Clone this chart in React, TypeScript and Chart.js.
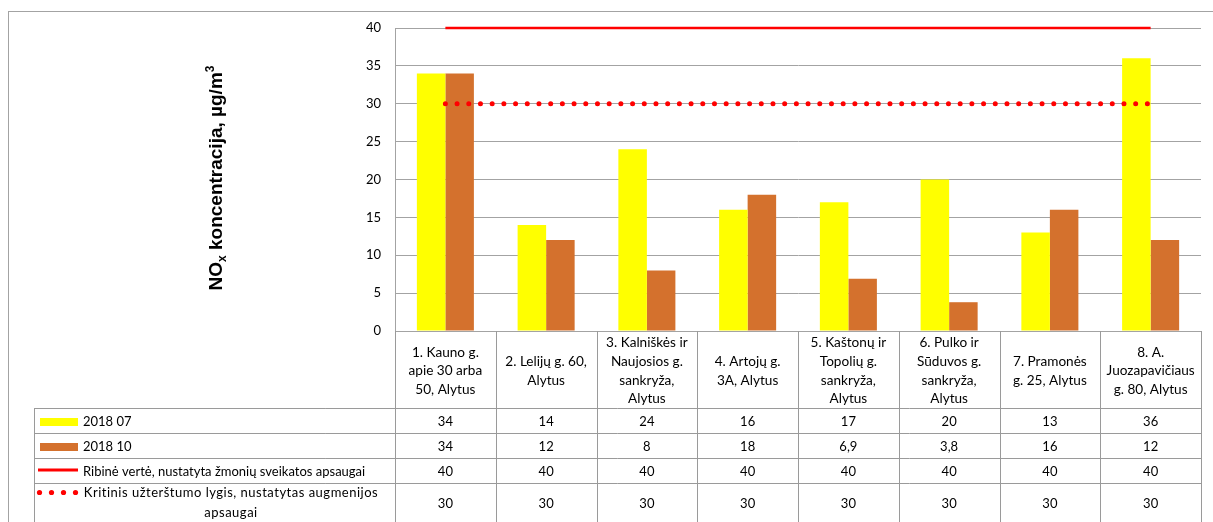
import React, { useEffect, useRef } from "react";
import { Chart, registerables } from "chart.js";

Chart.register(...registerables);

// ---------- data ----------
const categories: string[][] = [
  ["1. Kauno g.", "apie 30 arba", "50, Alytus"],
  ["2. Lelijų g. 60,", "Alytus"],
  ["3. Kalniškės ir", "Naujosios g.", "sankryža,", "Alytus"],
  ["4. Artojų g.", "3A, Alytus"],
  ["5. Kaštonų ir", "Topolių g.", "sankryža,", "Alytus"],
  ["6. Pulko ir", "Sūduvos g.", "sankryža,", "Alytus"],
  ["7. Pramonės", "g. 25, Alytus"],
  ["8. A.", "Juozapavičiaus", "g. 80, Alytus"],
];
const jul2018 = [34, 14, 24, 16, 17, 20, 13, 36];
const oct2018 = [34, 12, 8, 18, 6.9, 3.8, 16, 12];
const limitValue = [40, 40, 40, 40, 40, 40, 40, 40];
const criticalLevel = [30, 30, 30, 30, 30, 30, 30, 30];
const seriesNames = [
  "2018 07",
  "2018 10",
  "Ribinė vertė, nustatyta žmonių sveikatos apsaugai",
  "Kritinis užterštumo lygis, nustatytas augmenijos apsaugai",
];
const yMin = 0;
const yMax = 40;
const yStep = 5;
const titleParts = ["NO", "x", " koncentracija, µg/m", "3"];

// ---------- styles ----------
const FONT = 'Lato, "Open Sans", sans-serif';
const TITLE_FONT = '"Liberation Sans", Arial, sans-serif';
const GRID = "#A3A3A3";
const TABLE_LINE = "#9A9A9A";
const YELLOW = "#FFFF00";
const ORANGE = "#D4712D";
const RED = "#FF0000";

const fmt = (v: number) => String(v).replace(".", ",");

function wrap(ctx: CanvasRenderingContext2D, text: string, maxW: number) {
  const words = text.split(" ");
  const lines: string[] = [];
  let cur = "";
  for (const w of words) {
    const t = cur ? cur + " " + w : w;
    if (ctx.measureText(t).width > maxW && cur) {
      lines.push(cur);
      cur = w;
    } else cur = t;
  }
  if (cur) lines.push(cur);
  return lines;
}

const framePlugin = {
  id: "frameAndTitle",
  beforeDraw(chart: any) {
    const ctx: CanvasRenderingContext2D = chart.ctx;
    ctx.save();
    ctx.fillStyle = "#fff";
    ctx.fillRect(0, 0, chart.width, chart.height);
    ctx.strokeStyle = GRID;
    ctx.lineWidth = 1;
    ctx.strokeRect(8.5, 11.5, chart.width + 20, chart.height + 20);

    // rotated y-axis title with subscript / superscript
    const big = `bold 19px ${TITLE_FONT}`;
    const small = `bold 12px ${TITLE_FONT}`;
    const parts = [
      { t: titleParts[0], f: big, dy: 0 },
      { t: titleParts[1], f: small, dy: 4 },
      { t: titleParts[2], f: big, dy: 0 },
      { t: titleParts[3], f: small, dy: -8 },
    ];
    let total = 0;
    const widths = parts.map((p) => {
      ctx.font = p.f;
      const w = ctx.measureText(p.t).width;
      total += w;
      return w;
    });
    ctx.translate(222, 178);
    ctx.rotate(-Math.PI / 2);
    ctx.fillStyle = "#000";
    ctx.textBaseline = "alphabetic";
    ctx.textAlign = "left";
    let x = -total / 2;
    parts.forEach((p, i) => {
      ctx.font = p.f;
      ctx.fillText(p.t, x, p.dy);
      x += widths[i];
    });
    ctx.restore();
  },
};

const tablePlugin = {
  id: "dataTable",
  afterDraw(chart: any) {
    const ctx: CanvasRenderingContext2D = chart.ctx;
    const a = chart.chartArea;
    const xs = chart.scales.x;
    const n = categories.length;
    const half = (xs.getPixelForValue(1) - xs.getPixelForValue(0)) / 2;
    const top = a.bottom;
    const H = chart.height;
    const rowB = [top, top + 77, top + 102, top + 127, top + 152, H + 1];
    const legendLeft = 34;
    const right = xs.getPixelForValue(n - 1) + half;
    const px = (v: number) => Math.round(v) + 0.5;

    ctx.save();
    ctx.strokeStyle = TABLE_LINE;
    ctx.lineWidth = 1;
    ctx.beginPath();
    for (let i = 0; i <= n; i++) {
      const x = px(i < n ? xs.getPixelForValue(i) - half : right);
      ctx.moveTo(x, top);
      ctx.lineTo(x, H);
    }
    ctx.moveTo(px(legendLeft), rowB[1]);
    ctx.lineTo(px(legendLeft), H);
    for (let r = 1; r <= 4; r++) {
      ctx.moveTo(legendLeft, px(rowB[r]));
      ctx.lineTo(right + 0.5, px(rowB[r]));
    }
    ctx.stroke();

    ctx.fillStyle = "#000";
    ctx.textAlign = "center";
    ctx.textBaseline = "middle";

    // header labels
    ctx.font = `13.6px ${FONT}`;
    const hcy = (rowB[0] + rowB[1]) / 2 + 1.5;
    const lh = 18.7;
    categories.forEach((lines, i) => {
      const cx = xs.getPixelForValue(i);
      lines.forEach((l, j) => {
        ctx.fillText(l, cx, hcy + (j - (lines.length - 1) / 2) * lh);
      });
    });

    // values
    ctx.font = `13px ${FONT}`;
    const rows = [jul2018, oct2018, limitValue, criticalLevel];
    rows.forEach((vals, r) => {
      const cy = (rowB[r + 1] + rowB[r + 2]) / 2 + 1;
      vals.forEach((v, i) => ctx.fillText(fmt(v), xs.getPixelForValue(i), cy));
    });

    // legend column
    const ds = chart.data.datasets;
    const keyL = 40;
    const keyR = 78;
    const textX = 83;
    for (let r = 0; r < 4; r++) {
      const cy = (rowB[r + 1] + rowB[r + 2]) / 2 + 1;
      if (r < 2) {
        ctx.fillStyle = ds[r].backgroundColor;
        ctx.fillRect(keyL, Math.round(cy) - 4, keyR - keyL, 8);
      } else if (r === 2) {
        ctx.strokeStyle = ds[2].borderColor;
        ctx.lineWidth = 3;
        ctx.beginPath();
        ctx.moveTo(keyL - 2, cy - 1.5);
        ctx.lineTo(keyR, cy - 1.5);
        ctx.stroke();
      } else {
        ctx.fillStyle = ds[3].borderColor;
        for (let k = 0; k < 4; k++) {
          ctx.beginPath();
          ctx.arc(39.5 + k * 12, 492.5, 2.6, 0, Math.PI * 2);
          ctx.fill();
        }
      }
      ctx.fillStyle = "#000";
      if (r < 3) {
        ctx.textAlign = "left";
        ctx.fillText(seriesNames[r], textX, cy);
      } else {
        ctx.textAlign = "center";
        const lines = wrap(ctx, seriesNames[r], 285);
        (ctx as any).letterSpacing = "0.5px";
        lines.forEach((l, j) => ctx.fillText(l, 231, 493 + j * 19.5));
        (ctx as any).letterSpacing = "0px";
      }
    }
    ctx.restore();
  },
};

export default function App() {
  const ref = useRef<HTMLCanvasElement>(null);
  useEffect(() => {
    const chart = new Chart(ref.current as HTMLCanvasElement, {
      type: "bar",
      data: {
        labels: categories.map((c) => c.join(" ")),
        datasets: [
          {
            type: "bar",
            label: seriesNames[0],
            data: jul2018,
            backgroundColor: YELLOW,
            borderWidth: 0,
            categoryPercentage: 0.566,
            barPercentage: 1,
            order: 2,
          },
          {
            type: "bar",
            label: seriesNames[1],
            data: oct2018,
            backgroundColor: ORANGE,
            borderWidth: 0,
            categoryPercentage: 0.566,
            barPercentage: 1,
            order: 2,
          },
          {
            type: "line",
            label: seriesNames[2],
            data: limitValue,
            borderColor: RED,
            backgroundColor: RED,
            borderWidth: 2.5,
            pointRadius: 0,
            clip: false,
            order: 0,
          },
          {
            type: "line",
            label: seriesNames[3],
            data: criticalLevel,
            borderColor: RED,
            backgroundColor: RED,
            borderWidth: 5,
            borderDash: [0, 11.7],
            borderCapStyle: "round",
            pointRadius: 0,
            clip: false,
            order: 1,
          },
        ] as any,
      },
      options: {
        responsive: false,
        animation: false,
        devicePixelRatio: 1,
        layout: { padding: { top: 28, right: 12, bottom: 191, left: 0 } },
        plugins: { legend: { display: false }, tooltip: { enabled: false }, title: { display: false } },
        scales: {
          x: { display: false },
          y: {
            min: yMin,
            max: yMax,
            ticks: { stepSize: yStep, padding: 14, color: "#000", font: { family: FONT, size: 13 } },
            grid: { color: GRID, drawTicks: false, lineWidth: 1 },
            border: { color: GRID, width: 1 },
            afterFit: (s: any) => {
              s.width = 395;
            },
          },
        },
      } as any,
      plugins: [framePlugin, tablePlugin],
    });
    return () => chart.destroy();
  }, []);
  return (
    <div style={{ position: "fixed", left: 0, top: 0, width: 1213, height: 522 }}>
      <canvas ref={ref} width={1213} height={522} style={{ display: "block" }} />
    </div>
  );
}
